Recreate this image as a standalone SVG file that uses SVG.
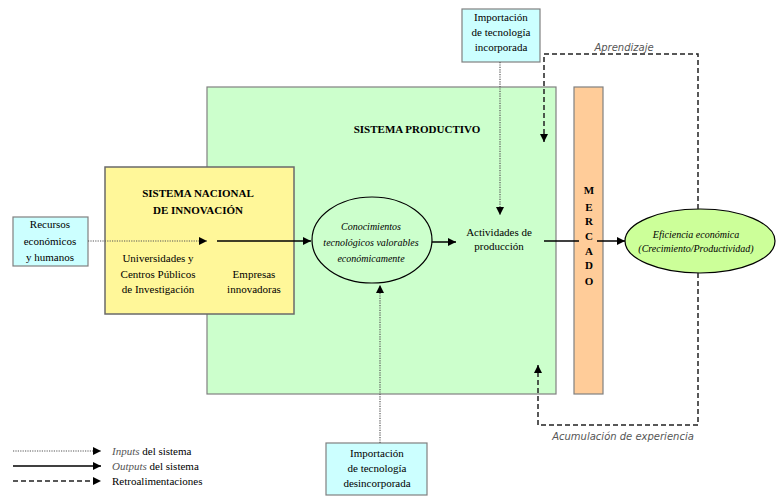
<svg xmlns="http://www.w3.org/2000/svg" width="777" height="496" viewBox="0 0 777 496" font-family="'Liberation Serif', 'DejaVu Serif', serif">
<style>
.t{font-size:11px;font-family:"Liberation Serif","DejaVu Serif",serif;}
.b{font-size:11px;font-weight:bold;font-family:"Liberation Serif","DejaVu Serif",serif;}
.i{font-size:10px;font-style:italic;font-family:"Liberation Serif","DejaVu Serif",serif;}
.g{font-size:10px;font-style:italic;fill:#555;font-family:"DejaVu Sans","Liberation Sans",sans-serif;}
.box{stroke:#808080;stroke-width:1.2;}
.solid{stroke:#000;stroke-width:1.5;fill:none;}
.dot{stroke:#555;stroke-width:1.2;stroke-dasharray:1.2,1.2;fill:none;}
.dash{stroke:#222;stroke-width:1.5;stroke-dasharray:5,3;fill:none;}
</style>
<defs>
<marker id="ah" viewBox="0 0 10 10" refX="10" refY="5" markerWidth="9" markerHeight="8" orient="auto" markerUnits="userSpaceOnUse">
<path d="M0,0 L10,5 L0,10 z" fill="#000"/>
</marker>
</defs>
<rect width="777" height="496" fill="#fff"/>

<g id="sistema-productivo">
<rect class="box" x="207" y="87" width="349" height="307" fill="#CCFFCC"/>
<text class="b" x="417" y="133" text-anchor="middle">SISTEMA PRODUCTIVO</text>
</g>

<g id="mercado">
<rect class="box" x="574" y="87" width="29" height="307" fill="#FFCC99"/>
<g text-anchor="middle">
<text class="b" x="589" y="194">M</text>
<text class="b" x="589" y="211">E</text>
<text class="b" x="589" y="225">R</text>
<text class="b" x="589" y="240">C</text>
<text class="b" x="589" y="255">A</text>
<text class="b" x="589" y="269">D</text>
<text class="b" x="589" y="285">O</text>
</g>
</g>

<g id="sistema-nacional">
<rect x="105" y="167" width="189" height="147" fill="#FFF799" stroke="#6a6a6a" stroke-width="1.5"/>
<text class="b" x="198" y="197" text-anchor="middle">SISTEMA NACIONAL</text>
<text class="b" x="198" y="214" text-anchor="middle">DE INNOVACIÓN</text>
<text class="t" x="158" y="262" text-anchor="middle">Universidades y</text>
<text class="t" x="158" y="278" text-anchor="middle">Centros Públicos</text>
<text class="t" x="158" y="293" text-anchor="middle">de Investigación</text>
<text class="t" x="254" y="278" text-anchor="middle">Empresas</text>
<text class="t" x="254" y="293" text-anchor="middle">innovadoras</text>
</g>

<g id="recursos">
<rect class="box" x="13" y="217" width="75" height="49" fill="#CCFFFF"/>
<text class="t" x="50" y="228" text-anchor="middle">Recursos</text>
<text class="t" x="50" y="245" text-anchor="middle">económicos</text>
<text class="t" x="50" y="261" text-anchor="middle">y humanos</text>
</g>

<g id="conocimientos">
<ellipse cx="372" cy="240" rx="60" ry="43" fill="none" stroke="#000" stroke-width="1.2"/>
<text class="i" x="371" y="230" text-anchor="middle">Conocimientos</text>
<text class="i" x="371" y="246" text-anchor="middle">tecnológicos valorables</text>
<text class="i" x="371" y="262" text-anchor="middle">económicamente</text>
</g>

<g id="actividades">
<text class="t" x="499" y="236" text-anchor="middle">Actividades de</text>
<text class="t" x="499" y="250" text-anchor="middle">producción</text>
</g>

<g id="eficiencia">
<ellipse cx="700" cy="241" rx="75" ry="32" fill="#CCFF99" stroke="#000" stroke-width="1.2"/>
<text class="i" x="696" y="238" text-anchor="middle">Eficiencia económica</text>
<text class="i" x="696" y="252" text-anchor="middle">(Crecimiento/Productividad)</text>
</g>

<g id="importacion-incorporada">
<rect class="box" x="462" y="9" width="78" height="53" fill="#CCFFFF"/>
<text class="t" x="501" y="21" text-anchor="middle">Importación</text>
<text class="t" x="501" y="36" text-anchor="middle">de tecnología</text>
<text class="t" x="501" y="51" text-anchor="middle">incorporada</text>
</g>

<g id="importacion-desincorporada">
<rect class="box" x="326" y="443" width="101" height="52" fill="#CCFFFF"/>
<text class="t" x="377" y="457" text-anchor="middle">Importación</text>
<text class="t" x="377" y="472" text-anchor="middle">de tecnología</text>
<text class="t" x="377" y="487" text-anchor="middle">desincorporada</text>
</g>

<g id="connectors">
<path class="dot" d="M88,241 H207" marker-end="url(#ah)"/>
<path class="solid" d="M217,241 H311" marker-end="url(#ah)"/>
<path class="solid" d="M432,242 H456" marker-end="url(#ah)"/>
<path class="solid" d="M544,241 H579"/>
<path class="solid" d="M597,241 H625" marker-end="url(#ah)"/>
<path class="dot" d="M500,62 V215" marker-end="url(#ah)"/>
<path class="dot" d="M380,443 V285" marker-end="url(#ah)"/>
<path class="dash" d="M698,209 V54 H544 V142" marker-end="url(#ah)"/>
<path class="dash" d="M698,273 V425 H538 V365" marker-end="url(#ah)"/>
<text class="g" x="624" y="51" text-anchor="middle">Aprendizaje</text>
<text class="g" x="623" y="440" text-anchor="middle">Acumulación de experiencia</text>
</g>

<g id="legend">
<path class="dot" d="M13,451 H101" marker-end="url(#ah)"/>
<path class="solid" d="M13,466 H101" marker-end="url(#ah)"/>
<path class="dash" d="M13,481 H101" marker-end="url(#ah)"/>
<text class="t" x="112" y="455"><tspan font-style="italic" fill="#555">Inputs</tspan> del sistema</text>
<text class="t" x="112" y="470"><tspan font-style="italic" fill="#555">Outputs</tspan> del sistema</text>
<text class="t" x="112" y="485">Retroalimentaciones</text>
</g>
</svg>
